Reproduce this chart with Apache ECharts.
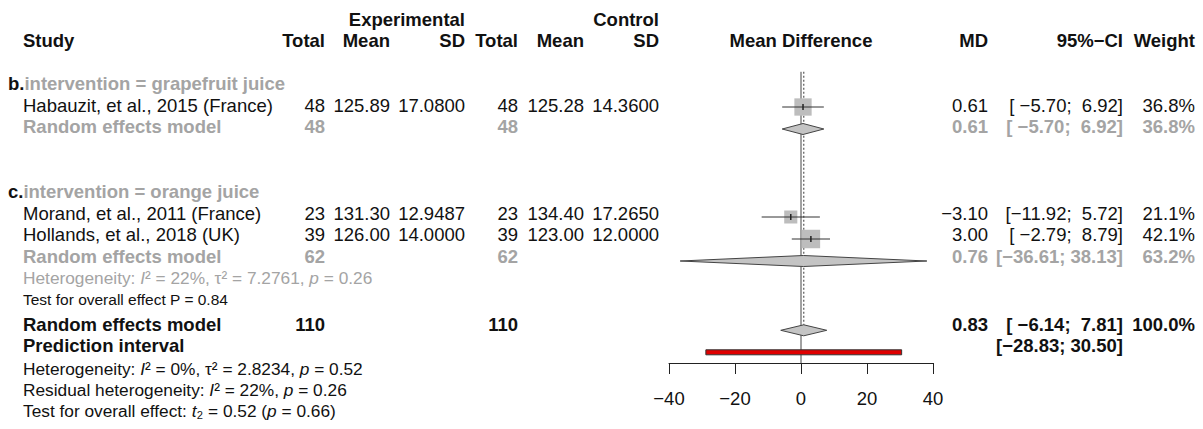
<!DOCTYPE html>
<html>
<head>
	<meta charset="utf-8"/>
	<title>Forest plot</title>
	<style>
		html, body { margin: 0; padding: 0; background: #fff; }
		#chart { width: 1203px; height: 429px; }
	</style>
</head>
<body>
	<div id="chart"></div>
	<script src="https://cdn.jsdelivr.net/npm/echarts@6/dist/echarts.min.js"></script>
	<script>
		// single studies
		var studies = ['Habauzit, et al., 2015 (France)', 'Morand, et al., 2011 (France)', 'Hollands, et al., 2018 (UK)'];
		var expTotal = [48, 23, 39];
		var expMean = ['125.89', '131.30', '126.00'];
		var expSD = ['17.0800', '12.9487', '14.0000'];
		var ctlTotal = [48, 23, 39];
		var ctlMean = ['125.28', '134.40', '123.00'];
		var ctlSD = ['14.3600', '17.2650', '12.0000'];
		var studyMD = [0.61, -3.10, 3.00];
		var studyLower = [-5.70, -11.92, -2.79];
		var studyUpper = [6.92, 5.72, 8.79];
		var studyWeight = [36.8, 21.1, 42.1];

		// subgroups
		var groupLetters = ['b.', 'c.'];
		var groupNames = ['intervention = grapefruit juice', 'intervention = orange juice'];
		var groupTotal = [48, 62];
		var groupMD = [0.61, 0.76];
		var groupLower = [-5.70, -36.61];
		var groupUpper = [6.92, 38.13];
		var groupWeight = [36.8, 63.2];
		var groupHet = 'Heterogeneity: {i|I}² = 22%, τ² = 7.2761, {i|p} = 0.26';
		var groupTest = 'Test for overall effect P = 0.84';

		// overall
		var overallTotal = 110;
		var overallMD = 0.83;
		var overallLower = -6.14;
		var overallUpper = 7.81;
		var overallWeight = 100.0;
		var predLower = -28.83;
		var predUpper = 30.50;
		var overallNotes = [
			'Heterogeneity: {i|I}² = 0%, τ² = 2.8234, {i|p} = 0.52',
			'Residual heterogeneity: {i|I}² = 22%, {i|p} = 0.26',
			'Test for overall effect: {i|t}₂ = 0.52 ({i|p} = 0.66)'
		];
		var xTicks = [-40, -20, 0, 20, 40];

		// layout (rows are 22px apart)
		var studyRow = [1, 6, 7];
		var groupLabelRow = [0, 5];
		var groupModelRow = [2, 8];
		var hetRow = 9, testRow = 10, overallRow = 11.15, predRow = 12.15;
		var noteRows = [13.2, 14.2, 15.15];
		var ROW = 22, TOP = 19;
		var FS = 18.5, NOTE_FS = 17.3;
		var FONT = "'Liberation Sans', Arial, Helvetica, sans-serif";
		var BLACK = '#111', GRAY = '#a4a4a4';
		var col = {study: 23, expTotal: 325, expMean: 390, expSD: 465, ctlTotal: 518, ctlMean: 584,
			ctlSD: 659, effect: 801, md: 988, ci: 1123, weight: 1195};

		function fmt (v) {
			return v.toFixed(2).replace('-', '\u2212');
		}
		function padL (s, n) {
			while (s.length < n) s = '\u00a0' + s;
			return s;
		}
		function ci (lo, hi) {
			return '[' + padL(fmt(lo), 6) + ';\u00a0' + padL(fmt(hi), 5) + ']';
		}

		var cells = [];
		function cell (x, row, text, align, size, bold, color, rich) {
			cells.push({x: x, row: row, text: text, align: align, size: size, bold: bold, color: color, rich: rich});
		}
		function italicRich (size, color) {
			return {i: {fontStyle: 'italic', fontSize: size, fontFamily: FONT, fill: color}};
		}

		// headers
		cell(col.expSD, -3, 'Experimental', 'right', FS, true, BLACK);
		cell(col.ctlSD, -3, 'Control', 'right', FS, true, BLACK);
		cell(col.study, -2, 'Study', 'left', FS, true, BLACK);
		cell(col.expTotal, -2, 'Total', 'right', FS, true, BLACK);
		cell(col.expMean, -2, 'Mean', 'right', FS, true, BLACK);
		cell(col.expSD, -2, 'SD', 'right', FS, true, BLACK);
		cell(col.ctlTotal, -2, 'Total', 'right', FS, true, BLACK);
		cell(col.ctlMean, -2, 'Mean', 'right', FS, true, BLACK);
		cell(col.ctlSD, -2, 'SD', 'right', FS, true, BLACK);
		cell(col.effect, -2, 'Mean Difference', 'center', FS, true, BLACK);
		cell(col.md, -2, 'MD', 'right', FS, true, BLACK);
		cell(col.ci, -2, '95%\u2212CI', 'right', FS, true, BLACK);
		cell(col.weight, -2, 'Weight', 'right', FS, true, BLACK);

		// subgroup labels and models
		for (var g = 0; g < groupNames.length; g++) {
			cell(8, groupLabelRow[g], '{b|' + groupLetters[g] + '}{g|' + groupNames[g] + '}', 'left', FS, true, BLACK, {
				b: {fontSize: FS, fontWeight: 'bold', fontFamily: FONT, fill: BLACK},
				g: {fontSize: FS, fontWeight: 'bold', fontFamily: FONT, fill: GRAY}
			});
			var r = groupModelRow[g];
			cell(col.study, r, 'Random effects model', 'left', FS, true, GRAY);
			cell(col.expTotal, r, String(groupTotal[g]), 'right', FS, true, GRAY);
			cell(col.ctlTotal, r, String(groupTotal[g]), 'right', FS, true, GRAY);
			cell(col.md, r, fmt(groupMD[g]), 'right', FS, true, GRAY);
			cell(col.ci, r, ci(groupLower[g], groupUpper[g]), 'right', FS, true, GRAY);
			cell(col.weight, r, groupWeight[g].toFixed(1) + '%', 'right', FS, true, GRAY);
		}
		cell(col.study, hetRow, groupHet, 'left', NOTE_FS, false, GRAY, italicRich(NOTE_FS, GRAY));
		cell(col.study, testRow, groupTest, 'left', 15.5, false, BLACK);

		// studies
		for (var i = 0; i < studies.length; i++) {
			var sr = studyRow[i];
			cell(col.study, sr, studies[i], 'left', FS, false, BLACK);
			cell(col.expTotal, sr, String(expTotal[i]), 'right', FS, false, BLACK);
			cell(col.expMean, sr, expMean[i], 'right', FS, false, BLACK);
			cell(col.expSD, sr, expSD[i], 'right', FS, false, BLACK);
			cell(col.ctlTotal, sr, String(ctlTotal[i]), 'right', FS, false, BLACK);
			cell(col.ctlMean, sr, ctlMean[i], 'right', FS, false, BLACK);
			cell(col.ctlSD, sr, ctlSD[i], 'right', FS, false, BLACK);
			cell(col.md, sr, fmt(studyMD[i]), 'right', FS, false, BLACK);
			cell(col.ci, sr, ci(studyLower[i], studyUpper[i]), 'right', FS, false, BLACK);
			cell(col.weight, sr, studyWeight[i].toFixed(1) + '%', 'right', FS, false, BLACK);
		}

		// overall
		cell(col.study, overallRow, 'Random effects model', 'left', FS, true, BLACK);
		cell(col.expTotal, overallRow, String(overallTotal), 'right', FS, true, BLACK);
		cell(col.ctlTotal, overallRow, String(overallTotal), 'right', FS, true, BLACK);
		cell(col.md, overallRow, fmt(overallMD), 'right', FS, true, BLACK);
		cell(col.ci, overallRow, ci(overallLower, overallUpper), 'right', FS, true, BLACK);
		cell(col.weight, overallRow, overallWeight.toFixed(1) + '%', 'right', FS, true, BLACK);
		cell(col.study, predRow, 'Prediction interval', 'left', FS, true, BLACK);
		cell(col.ci, predRow, ci(predLower, predUpper), 'right', FS, true, BLACK);
		for (var n = 0; n < overallNotes.length; n++) {
			cell(col.study, noteRows[n], overallNotes[n], 'left', NOTE_FS, false, BLACK, italicRich(NOTE_FS, BLACK));
		}

		var plotTop = -0.6;
		var plotMax = -3 + (363 - TOP) / ROW;

		var option = {
			animation: false,
			grid: [
				{left: 0, top: TOP, width: 1203, height: ROW * 19},
				{left: 669, top: TOP, width: 264, height: 363 - TOP}
			],
			xAxis: [
				{gridIndex: 0, type: 'value', min: 0, max: 1203, show: false},
				{
					gridIndex: 1, type: 'value', position: 'bottom',
					min: xTicks[0], max: xTicks[xTicks.length - 1], interval: 20,
					axisLine: {onZero: false, lineStyle: {color: '#222', width: 1}},
					axisTick: {length: 11, lineStyle: {color: '#222', width: 1}},
					axisLabel: {
						fontSize: FS, fontFamily: FONT, color: BLACK, margin: 26,
						formatter: function (v) { return String(v).replace('-', '\u2212'); }
					},
					splitLine: {show: false}
				}
			],
			yAxis: [
				{gridIndex: 0, type: 'value', min: -3, max: 16, inverse: true, show: false},
				{gridIndex: 1, type: 'value', min: -3, max: plotMax, inverse: true, show: false}
			],
			series: [
				// reference lines
				{
					type: 'custom', xAxisIndex: 1, yAxisIndex: 1, silent: true,
					data: [[0, plotTop, plotMax, 0], [overallMD, plotTop, overallRow - 0.25, 1]],
					renderItem: function (params, api) {
						var a = api.coord([api.value(0), api.value(1)]);
						var b = api.coord([api.value(0), api.value(2)]);
						var dotted = api.value(3) === 1;
						return {
							type: 'line',
							shape: {x1: a[0], y1: a[1], x2: b[0], y2: b[1]},
							style: {stroke: dotted ? '#666' : '#444', lineWidth: dotted ? 1.3 : 1, lineDash: dotted ? [2, 2] : null}
						};
					}
				},
				// study squares and CIs
				{
					type: 'custom', xAxisIndex: 1, yAxisIndex: 1, silent: true,
					data: studies.map(function (s, i) {
						return [studyMD[i], studyRow[i], studyLower[i], studyUpper[i], studyWeight[i]];
					}),
					renderItem: function (params, api) {
						var c = api.coord([api.value(0), api.value(1)]);
						var lo = api.coord([api.value(2), api.value(1)]);
						var hi = api.coord([api.value(3), api.value(1)]);
						var size = 2.85 * Math.sqrt(api.value(4));
						return {
							type: 'group',
							children: [
								{type: 'rect', shape: {x: c[0] - size / 2, y: c[1] - size / 2, width: size, height: size}, style: {fill: '#bdbdbd'}},
								{type: 'line', shape: {x1: lo[0], y1: c[1], x2: hi[0], y2: c[1]}, style: {stroke: '#333', lineWidth: 1}},
								{type: 'line', shape: {x1: c[0], y1: c[1] - 3, x2: c[0], y2: c[1] + 3}, style: {stroke: '#222', lineWidth: 1.5}}
							]
						};
					}
				},
				// diamonds
				{
					type: 'custom', xAxisIndex: 1, yAxisIndex: 1, silent: true,
					data: [
						[groupMD[0], groupModelRow[0], groupLower[0], groupUpper[0]],
						[groupMD[1], groupModelRow[1], groupLower[1], groupUpper[1]],
						[overallMD, overallRow, overallLower, overallUpper]
					],
					renderItem: function (params, api) {
						var c = api.coord([api.value(0), api.value(1)]);
						var lo = api.coord([api.value(2), api.value(1)]);
						var hi = api.coord([api.value(3), api.value(1)]);
						var h = 5.5;
						return {
							type: 'polygon',
							shape: {points: [[lo[0], c[1]], [c[0], c[1] - h], [hi[0], c[1]], [c[0], c[1] + h]]},
							style: {fill: '#c4c4c4', stroke: '#444', lineWidth: 1}
						};
					}
				},
				// prediction interval
				{
					type: 'custom', xAxisIndex: 1, yAxisIndex: 1, silent: true,
					data: [[predLower, predUpper, predRow]],
					renderItem: function (params, api) {
						var a = api.coord([api.value(0), api.value(2)]);
						var b = api.coord([api.value(1), api.value(2)]);
						return {
							type: 'rect',
							shape: {x: a[0], y: a[1] - 2.5, width: b[0] - a[0], height: 5},
							style: {fill: '#e00000', stroke: '#333', lineWidth: 1}
						};
					}
				},
				// table text
				{
					type: 'custom', xAxisIndex: 0, yAxisIndex: 0, silent: true,
					data: cells.map(function (c) { return [c.x, c.row]; }),
					renderItem: function (params, api) {
						var c = cells[params.dataIndex];
						var p = api.coord([api.value(0), api.value(1)]);
						var style = {
							text: c.text, x: 0, y: 0, align: c.align, verticalAlign: 'middle',
							fill: c.color, fontSize: c.size, fontFamily: FONT, fontWeight: c.bold ? 'bold' : 'normal'
						};
						if (c.rich) style.rich = c.rich;
						return {type: 'text', x: p[0], y: p[1], style: style};
					}
				}
			]
		};

		var myChart = echarts.init(document.getElementById('chart'), null, {renderer: 'svg'});
		myChart.setOption(option);
	</script>
</body>
</html>
